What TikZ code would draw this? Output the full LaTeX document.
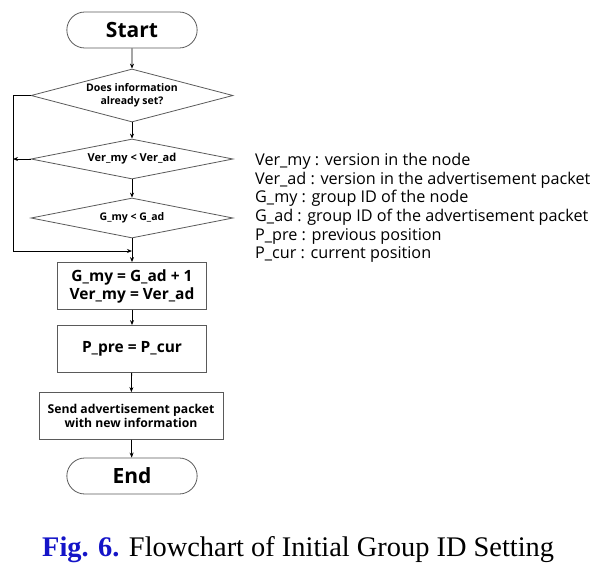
\documentclass[tikz,border=0pt]{standalone}
\usepackage{fontspec}
\setmainfont{Open Sans}
\newfontfamily\capfont{Liberation Serif}
\usetikzlibrary{shapes.geometric,shapes.misc,arrows.meta}
\definecolor{figblue}{RGB}{20,20,200}
\definecolor{boxline}{RGB}{90,90,90}
\tikzset{
  term/.style={draw=boxline,thick,rounded rectangle,minimum width=137pt,minimum height=36pt,font=\bfseries\fontsize{21}{23}\selectfont},
  test/.style={draw=boxline,thick,diamond,aspect=5.05,inner sep=0pt,minimum width=202pt,minimum height=40pt,align=center,font=\bfseries\fontsize{10.5}{13}\selectfont},
  proc/.style={draw=boxline,thick,rectangle,minimum width=149pt,minimum height=47pt,align=center,font=\bfseries\fontsize{15.5}{18}\selectfont},
  flow/.style={-{Stealth[length=5pt,width=4pt]},thick},
  legend/.style={anchor=west,font=\fontsize{16.2}{18.6}\selectfont,align=left,inner sep=0pt}
}
\begin{document}
\begin{tikzpicture}[x=1pt,y=-1pt]
  \useasboundingbox (0,0) rectangle (613,568);
  % flowchart
  \node[term] (start) at (132,30) {Start};
  \node[test,aspect=3.8,minimum height=53pt] (set) at (132,95.5) {Does information\\already set?};
  \node[test,font=\bfseries\fontsize{11}{13}\selectfont] (ver) at (132,159) {Ver\_my < Ver\_ad};
  \node[test] (grp) at (132,218) {G\_my < G\_ad};
  \node[proc] (upd) at (132,286) {G\_my = G\_ad + 1\\Ver\_my = Ver\_ad};
  \node[proc] (pos) at (132,349) {P\_pre = P\_cur};
  \node[proc,minimum width=184pt,font=\bfseries\fontsize{12.2}{13.5}\selectfont] (send) at (131,416) {Send advertisement packet\\with new information};
  \node[term] (end) at (132,476) {End};
  \coordinate (lt) at (13,95.5);
  \coordinate (lv) at (13,159);
  \coordinate (lb) at (13,251);
  \coordinate (mb) at (132,251);
  \draw[flow] (start) -- (set);
  \draw[flow] (set) -- (ver);
  \draw[flow] (ver) -- (grp);
  \draw[flow] (grp) -- (upd);
  \draw[flow] (upd) -- (pos);
  \draw[flow] (pos) -- (send);
  \draw[flow] (send) -- (end);
  \draw[thick] (set.west) -- (lt) -- (lb);
  \draw[flow] (ver.west) -- (lv);
  \draw[flow] (lb) -- (mb);
  % variables
  \node[legend] (vars) at (255,208) {Ver\_my : version in the node\\Ver\_ad : version in the advertisement packet\\G\_my : group ID of the node\\G\_ad : group ID of the advertisement packet\\P\_pre : previous position\\P\_cur : current position};
  % caption
  \node[anchor=base west,inner sep=0pt,font=\capfont\fontsize{28.4}{32}\selectfont] (cap) at (42,556) {\textcolor{figblue}{\bfseries Fig. 6.} Flowchart of Initial Group ID Setting};
\end{tikzpicture}
\end{document}
